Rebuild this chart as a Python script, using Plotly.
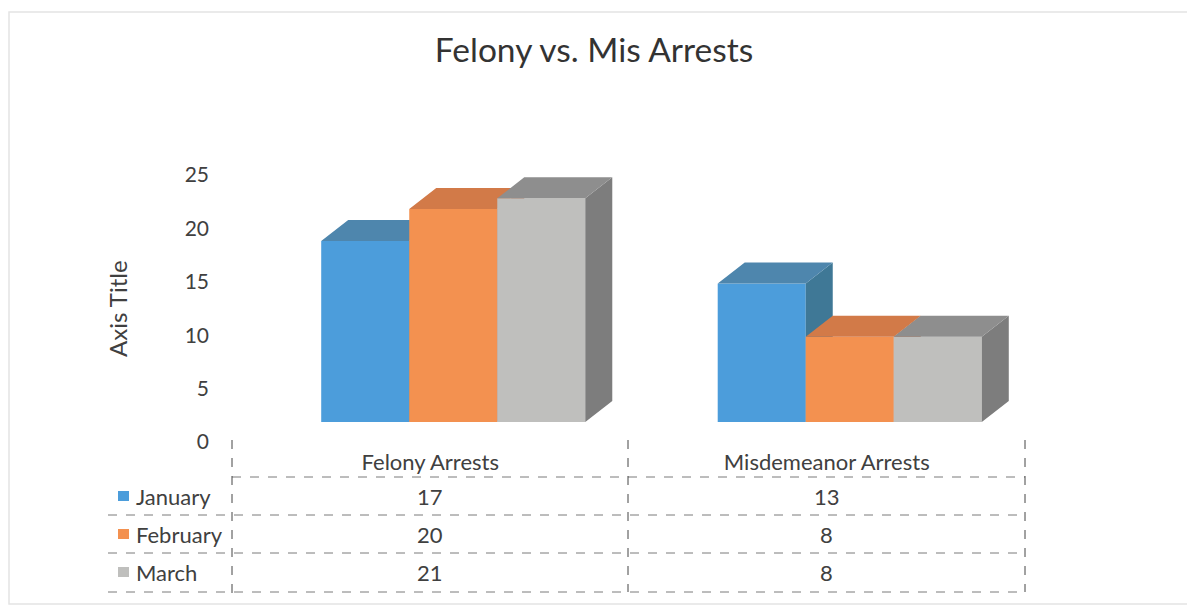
import plotly.graph_objects as go

# ---------------- data ----------------
categories = ["Felony Arrests", "Misdemeanor Arrests"]
series_names = ["January", "February", "March"]
january = [17, 13]
february = [20, 8]
march = [21, 8]
series_values = [january, february, march]
y_ticks = [0, 5, 10, 15, 20, 25]

# ---------------- style ----------------
FONT = "Lato"
TXT = "#404040"
front_cols = ["#4C9DDB", "#F39150", "#BFBFBD"]
top_cols = ["#4E86AD", "#D27A48", "#8E8E8E"]
side_cols = ["#3F7896", "#C06A3C", "#7D7D7D"]

PAGE_W, PAGE_H = 1195, 607
OFF = 8                                   # browser body margin
W, H = PAGE_W - OFF, PAGE_H - OFF
PL, PR, PT, PB = 232, 1025, 100, 442      # plot area in page pixels
PX_PER_CAT = (PR - PL) / 2.0
LABEL_ZERO, LABEL_SCALE = 442, 10.68      # back-wall tick label axis
BAR_ZERO, BAR_SCALE = 422, 10.65          # front faces axis

bar_w = 0.222
offsets = [-0.275, -0.053, 0.169]
dx = 27 / PX_PER_CAT
dy = 21 / BAR_SCALE

y_range = [(LABEL_ZERO - PB) / LABEL_SCALE, (LABEL_ZERO - PT) / LABEL_SCALE]
yb_range = [(BAR_ZERO - PB) / BAR_SCALE, (BAR_ZERO - PT) / BAR_SCALE]
x_range = [-0.5, 1.5]


def px_x(px):
    return (px - PL) / (PR - PL)


def px_y(py):
    return (PB - py) / (PB - PT)


fig = go.Figure()

for i, (name, vals) in enumerate(zip(series_names, series_values)):
    ax = str(i + 2)
    xa, ya = "x" + ax, "y" + ax
    xs = list(range(len(categories)))
    tx, ty, sx, sy = [], [], [], []
    for j, v in zip(xs, vals):
        x0 = j + offsets[i]
        x1 = x0 + bar_w
        tx += [x0, x1, x1 + dx, x0 + dx, x0, None]
        ty += [v, v, v + dy, v + dy, v, None]
        sx += [x1, x1, x1 + dx, x1 + dx, x1, None]
        sy += [0, v, v + dy, dy, 0, None]
    fig.add_trace(go.Scatter(x=sx, y=sy, fill="toself", mode="lines",
                             line=dict(width=0, color=side_cols[i]),
                             fillcolor=side_cols[i], xaxis=xa, yaxis=ya,
                             hoverinfo="skip", showlegend=False))
    fig.add_trace(go.Scatter(x=tx, y=ty, fill="toself", mode="lines",
                             line=dict(width=0, color=top_cols[i]),
                             fillcolor=top_cols[i], xaxis=xa, yaxis=ya,
                             hoverinfo="skip", showlegend=False))
    fig.add_trace(go.Bar(x=xs, y=vals, name=name, width=bar_w, offset=offsets[i],
                         marker=dict(color=front_cols[i], line=dict(width=0)),
                         xaxis=xa, yaxis=ya, showlegend=False))

layout_axes = {}
for i in range(3):
    ax = str(i + 2)
    layout_axes["xaxis" + ax] = dict(overlaying="x", range=x_range, visible=False,
                                     anchor="y" + ax)
    layout_axes["yaxis" + ax] = dict(overlaying="y", range=yb_range, visible=False,
                                     anchor="x" + ax)

fig.update_layout(
    width=W, height=H,
    margin=dict(l=PL - OFF, r=PAGE_W - PR, t=PT - OFF, b=PAGE_H - PB),
    paper_bgcolor="white", plot_bgcolor="white",
    barmode="overlay",
    showlegend=False,
    font=dict(family=FONT, color=TXT, size=22),
    title=dict(text="Felony vs. Mis Arrests", x=(594 - OFF) / W, xanchor="center",
               y=1 - (50 - OFF) / H, yanchor="middle", yref="container",
               xref="container",
               font=dict(family=FONT, size=33.5, color="#333333")),
    xaxis=dict(range=x_range, tickvals=[0, 1], ticktext=categories,
               showgrid=False, zeroline=False, showline=False, ticks="",
               tickfont=dict(size=22, color=TXT), ticklabelstandoff=5),
    yaxis=dict(range=y_range, tickvals=y_ticks, showgrid=False, zeroline=False,
               showline=False, ticks="", tickfont=dict(size=21, color=TXT),
               ticklabelstandoff=22),
    **layout_axes,
)

# axis title
fig.add_annotation(text="Axis Title", xref="paper", yref="paper",
                   x=px_x(117), y=px_y(308), showarrow=False, textangle=-90,
                   font=dict(size=24, color=TXT), xanchor="center", yanchor="middle")

# ---------------- data table ----------------
LINE = dict(color="#7a7a7a", width=1, dash="dash")
row_centers = [496, 534, 572]
h_lines = [(477, 232, 1025), (515, 108, 1025), (553, 108, 1025), (592, 108, 1025)]
for yy, xa0, xa1 in h_lines:
    fig.add_shape(type="line", xref="paper", yref="paper",
                  x0=px_x(xa0), x1=px_x(xa1), y0=px_y(yy), y1=px_y(yy), line=LINE)
for xx, y0p, y1p in [(232, 440, 596), (628, 440, 592), (1025, 440, 592)]:
    fig.add_shape(type="line", xref="paper", yref="paper",
                  x0=px_x(xx), x1=px_x(xx), y0=px_y(y0p), y1=px_y(y1p),
                  line=dict(color="#444444", width=1, dash="dash"))

for i, name in enumerate(series_names):
    yc = row_centers[i]
    fig.add_shape(type="rect", xref="paper", yref="paper",
                  x0=px_x(118), x1=px_x(129), y0=px_y(yc - 5), y1=px_y(yc + 5),
                  fillcolor=front_cols[i], line=dict(width=0))
    fig.add_annotation(text=name, xref="paper", yref="paper", x=px_x(134),
                       y=px_y(yc), xanchor="left", yanchor="middle",
                       showarrow=False, font=dict(size=22, color=TXT))
    for j, v in enumerate(series_values[i]):
        fig.add_annotation(text=str(v), xref="x", yref="paper", x=j,
                           y=px_y(yc), xanchor="center", yanchor="middle",
                           showarrow=False, font=dict(size=22, color=TXT))

# faint chart border
fig.add_shape(type="rect", xref="paper", yref="paper",
              x0=px_x(9), x1=px_x(1192), y0=px_y(12), y1=px_y(604),
              line=dict(color="#e4e4e4", width=1.5))

fig.write_html("out.html")
